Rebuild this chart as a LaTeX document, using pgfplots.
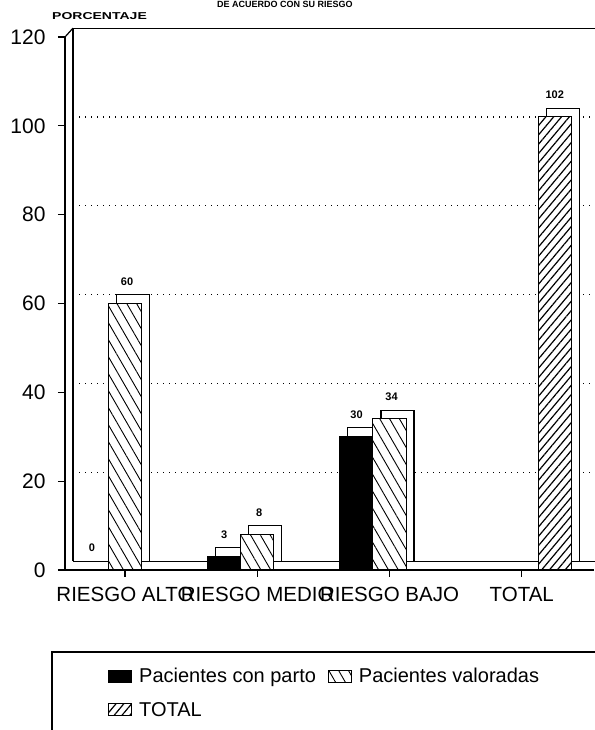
\documentclass[border=0pt]{standalone}
\usepackage{fontspec}
\setmainfont{Liberation Sans}
\usepackage{graphicx}
\usepackage{pgfplots}
\pgfplotsset{compat=1.18}
\usetikzlibrary{patterns.meta}

\begin{document}
\begin{tikzpicture}
\useasboundingbox (0,0) rectangle (594pt,730pt);
\node[font=\bfseries\fontsize{9}{11}\selectfont, anchor=base, inner sep=0pt] at (285pt,722pt) {DE ACUERDO CON SU RIESGO};
\node[anchor=base west, inner sep=0pt, font=\bfseries\fontsize{10}{12}\selectfont] at (52pt,710pt) {\scalebox{1.4}[1]{PORCENTAJE}};
\begin{axis}[
  at={(65pt,160pt)}, anchor=south west,
  scale only axis, width=529pt, height=533pt,
  xmin=-0.4537, xmax=3.5463, ymin=0, ymax=120,
  axis lines*=left,
  axis line style={line width=1.3pt},
  axis on top,
  clip=false,
  xtick={0,1,2,3},
  xticklabels={RIESGO ALTO, RIESGO MEDIO, RIESGO BAJO, TOTAL},
  ytick={0,20,...,120},
  tick align=outside,
  major tick length=7pt,
  tick style={line width=1.1pt, black},
  /pgf/number format/assume math mode=true,
  yticklabel style={font=\fontsize{21}{24}\selectfont, xshift=-9pt},
  xticklabel style={font=\fontsize{20.5}{24}\selectfont, yshift=-7pt},
  legend columns=2,
  legend style={draw=none, fill=none, at={(rel axis cs:0.0756,-0.1764)}, anchor=north west,
    font=\fontsize{20}{23}\selectfont, row sep=14pt,
    /tikz/every odd column/.append style={column sep=5pt},
    /tikz/every even column/.append style={column sep=10pt}},
  legend cell align=left,
  legend image code/.code={\draw[#1, line width=1pt] (0pt,-6pt) rectangle (23pt,6pt);},
]
% back wall dotted gridlines (offset by depth)
\draw[line width=1.2pt, dash pattern=on 1.2pt off 4.8pt] (axis cs:-0.3932,22) -- (axis cs:3.5463,22);
\draw[line width=1.2pt, dash pattern=on 1.2pt off 4.8pt] (axis cs:-0.3932,42) -- (axis cs:3.5463,42);
\draw[line width=1.2pt, dash pattern=on 1.2pt off 4.8pt] (axis cs:-0.3932,62) -- (axis cs:3.5463,62);
\draw[line width=1.2pt, dash pattern=on 1.2pt off 4.8pt] (axis cs:-0.3932,82) -- (axis cs:3.5463,82);
\draw[line width=1.2pt, dash pattern=on 1.2pt off 4.8pt] (axis cs:-0.3932,102) -- (axis cs:3.5463,102);
% back wall frame and floor
\draw[line width=1.2pt] (axis cs:-0.3932,2) -- (axis cs:-0.3932,122) -- (axis cs:3.7,122);
\draw[line width=1.2pt] (axis cs:-0.4537,120) -- (axis cs:-0.3932,122);
\draw[line width=1.2pt] (axis cs:-0.3932,2) -- (axis cs:3.7,2);
% back faces of bars (white fill)
\addplot[forget plot, ybar, bar width=0.25, bar shift=0.0605, fill=white, draw=none] coordinates {(0,62) (1,10) (2,36)};
\addplot[forget plot, ybar, bar width=0.25, bar shift=-0.1895, fill=white, draw=none] coordinates {(1,5) (2,32)};
\addplot[forget plot, ybar, bar width=0.25, bar shift=0.3105, fill=white, draw=none] coordinates {(3,104)};
% back face outlines
\addplot[forget plot, black, mark=none, line width=1.1pt, unbounded coords=jump] coordinates {
(-0.0645,60) (-0.0645,62) (0.1855,62) (0.1855,2) (0.125,2)
(nan,nan)
(0.6855,3) (0.6855,5) (0.9355,5) (0.9355,2) (0.875,2)
(nan,nan)
(0.9355,8) (0.9355,10) (1.1855,10) (1.1855,2) (1.125,2)
(nan,nan)
(1.6855,30) (1.6855,32) (1.9355,32) (1.9355,2) (1.875,2)
(nan,nan)
(1.9355,34) (1.9355,36) (2.1855,36) (2.1855,2) (2.125,2)
(nan,nan)
(3.1855,102) (3.1855,104) (3.4355,104) (3.4355,2) (3.375,2)
};
% front bars
\addplot[ybar, bar width=0.25, bar shift=-0.25, fill=black, draw=black, line width=1pt,
  nodes near coords, every node near coord/.append style={font=\bfseries\fontsize{11}{13}\selectfont, anchor=center, yshift=22pt, xshift=-33pt, black}]
  coordinates {(0,0) (1,3) (2,30)};
\addlegendentry{Pacientes con parto}
\addplot[ybar, bar width=0.25, bar shift=0, fill=white, draw=black, line width=1pt,
  postaction={pattern={Lines[angle=-60,distance=8.5pt,line width=0.9pt]}},
  nodes near coords, every node near coord/.append style={font=\bfseries\fontsize{11}{13}\selectfont, anchor=center, yshift=22pt, xshift=2pt, black}]
  coordinates {(0,60) (1,8) (2,34)};
\addlegendentry{Pacientes valoradas}
\addplot[ybar, bar width=0.25, bar shift=0.25, fill=white, draw=black, line width=1pt,
  postaction={pattern={Lines[angle=50,distance=6pt,line width=1.2pt]}},
  nodes near coords, every node near coord/.append style={font=\bfseries\fontsize{11}{13}\selectfont, anchor=center, yshift=22pt, xshift=33pt, black}]
  coordinates {(3,102)};
\addlegendentry{TOTAL}
\end{axis}
\draw[line width=1.1pt] (52pt,-20pt) -- (52pt,78pt) -- (620pt,78pt);
\end{tikzpicture}
\end{document}
